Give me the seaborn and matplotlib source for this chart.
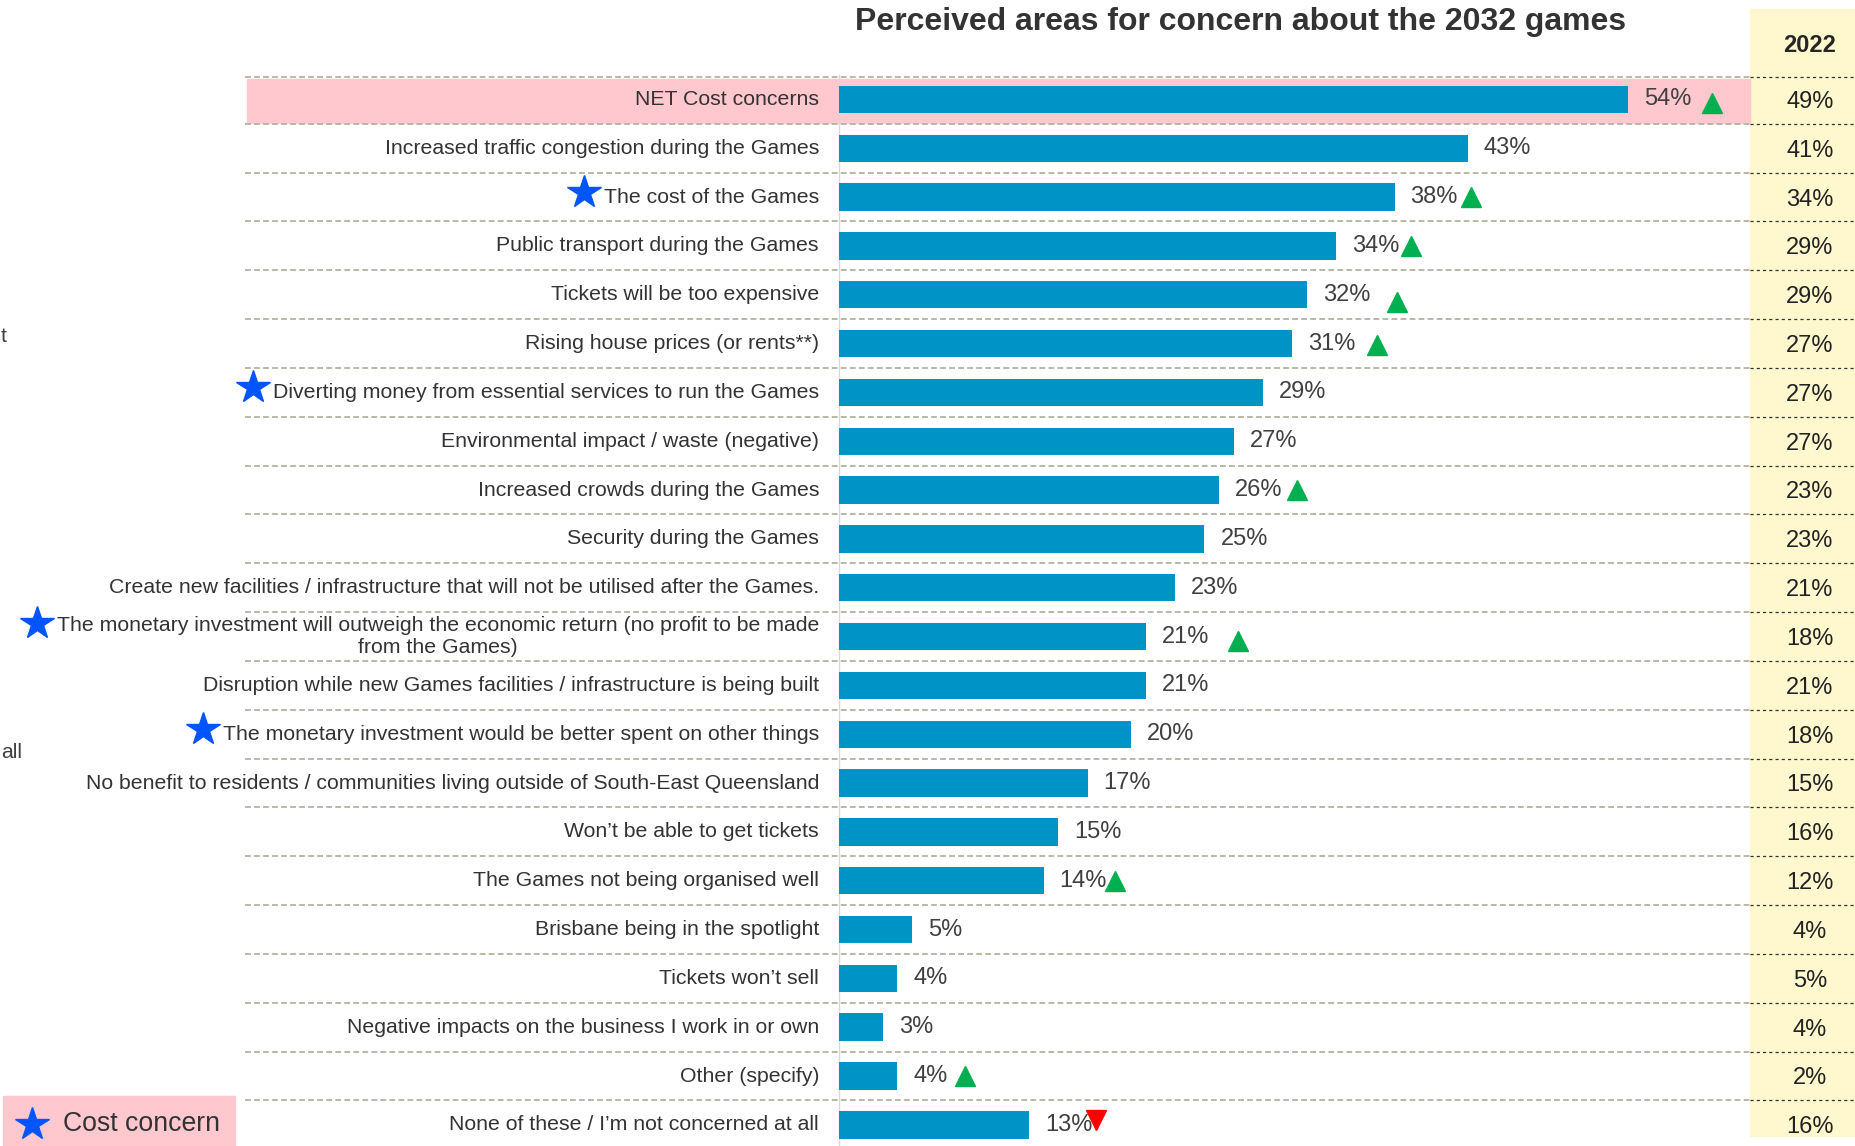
import matplotlib
matplotlib.use("Agg")
import matplotlib.pyplot as plt
import matplotlib.transforms as mtransforms
from matplotlib.patches import Rectangle
from matplotlib.lines import Line2D
import seaborn as sns
import pandas as pd

# Data
categories = [
    "NET Cost concerns",
    "Increased traffic congestion during the Games",
    "The cost of the Games",
    "Public transport during the Games",
    "Tickets will be too expensive",
    "Rising house prices (or rents**)",
    "Diverting money from essential services to run the Games",
    "Environmental impact / waste (negative)",
    "Increased crowds during the Games",
    "Security during the Games",
    "Create new facilities / infrastructure that will not be utilised after the Games.",
    "The monetary investment will outweigh the economic return (no profit to be made\nfrom the Games)",
    "Disruption while new Games facilities / infrastructure is being built",
    "The monetary investment would be better spent on other things",
    "No benefit to residents / communities living outside of South-East Queensland",
    "Won\u2019t be able to get tickets",
    "The Games not being organised well",
    "Brisbane being in the spotlight",
    "Tickets won\u2019t sell",
    "Negative impacts on the business I work in or own",
    "Other (specify)",
    "None of these / I\u2019m not concerned at all",
]
values_now = [54, 43, 38, 34, 32, 31, 29, 27, 26, 25, 23, 21, 21, 20, 17, 15, 14, 5, 4, 3, 4, 13]
values_2022 = [49, 41, 34, 29, 29, 27, 27, 27, 23, 23, 21, 18, 21, 18, 15, 16, 12, 4, 5, 4, 2, 16]
change = ["up", None, "up", "up", "up", "up", None, None, "up", None, None, "up",
          None, None, None, None, "up", None, None, None, "up", "down"]
cost_concern = [2, 6, 11, 13]

# layout of the change arrows (x offset in % units from bar end, y offset in px)
arrow_dx = [5.7, 0, 5.2, 5.1, 6.2, 5.8, 0, 0, 5.3, 0, 0, 6.3, 0, 0, 0, 0, 4.9, 0, 0, 0, 4.6, 4.6]
arrow_dy = [4, 0, 0, 0, 7, 1, 0, 0, 0, 0, 0, 4, 0, 0, 0, 0, 0, 0, 0, 0, 0, -5]

df = pd.DataFrame({"concern": categories, "pct": values_now})

W, H = 1856, 1146
def fx(px):
    return px / W
def fy(px):
    return 1 - px / H

sns.set_style("white")
plt.rcParams['font.family'] = ['Liberation Sans', 'DejaVu Sans']

BAR = "#0093c6"
PINK = "#ffc7ce"
YELLOW = "#fff7ce"
GRID = "#b3b3a3"
TXT = "#404040"

fig = plt.figure(figsize=(W / 100, H / 100), dpi=100)
row_px = 48.83
ax = fig.add_axes([fx(839), 0, fx(1750) - fx(839), (H - 75) / H])
ax.patch.set_visible(False)

sns.barplot(data=df, x="pct", y="concern", orient="h", color=BAR, saturation=1,
            width=0.56, linewidth=0, ax=ax, zorder=3)
ax.set_xlim(0, (1750 - 839) / 14.62)
ax.set_ylim((H - 99.4) / row_px, -0.5)
ax.autoscale(False)
ax.set_xticks([])
ax.set_yticks([])
ax.set_xlabel("")
ax.set_ylabel("")
for s in ["top", "right", "bottom"]:
    ax.spines[s].set_visible(False)
ax.spines["left"].set_color("#d9d9d9")
ax.spines["left"].set_linewidth(1)

trans = mtransforms.blended_transform_factory(fig.transFigure, ax.transData)

# yellow 2022 column
fig.patches.append(Rectangle((fx(1750), fy(1136)), fx(1856) - fx(1750), (1136 - 9) / H,
                             transform=fig.transFigure, color=YELLOW, zorder=-2))

# pink highlight of NET row
ax.add_patch(Rectangle((fx(247), -0.42), fx(1750) - fx(247), 0.9, transform=trans,
                       color=PINK, zorder=0, clip_on=False))

# row separators
seps = [-0.45] + [i + 0.5 for i in range(len(categories) - 1)]
for y in seps:
    ax.add_line(Line2D([fx(245), fx(1750)], [y, y], transform=trans, color=GRID,
                       lw=1.3, dashes=(3.2, 1.8), clip_on=False, zorder=1))
    ax.add_line(Line2D([fx(1750), fx(1856)], [y, y], transform=trans, color="#333333",
                       lw=0.9, dashes=(2.5, 2.5), clip_on=False, zorder=1))

# labels, values, 2022 column
label_texts = []
for i, (lab, v, v22) in enumerate(zip(categories, values_now, values_2022)):
    t = ax.text(fx(819), i, lab, transform=trans, ha="right", va="center", fontsize=15.3,
                color="#333333", multialignment="center", linespacing=1.2, clip_on=False)
    label_texts.append(t)
    ax.annotate(f"{v}%", (v, i), xytext=(11.5, 0), textcoords="offset points",
                ha="left", va="center", fontsize=17, color=TXT)
    ax.text(fx(1810), i + 0.05, f"{v22}%", transform=trans, ha="center", va="center",
            fontsize=17, color="#222222", clip_on=False)
    if change[i] == "up":
        ax.plot(v + arrow_dx[i], i + arrow_dy[i] / row_px, marker="^", ms=15,
                color="#00b050", clip_on=False, zorder=4)
    elif change[i] == "down":
        ax.plot(v + arrow_dx[i], i + arrow_dy[i] / row_px, marker="v", ms=15,
                color="#ff0000", clip_on=False, zorder=4)

fig.text(fx(1241), fy(22), "Perceived areas for concern about the 2032 games", ha="center",
         va="center", fontsize=23, fontweight="bold", color="#333333")
fig.text(fx(1810), fy(46), "2022", ha="center", va="center", fontsize=17,
         fontweight="bold", color="#262626")

# stars next to cost concern labels
fig.canvas.draw()
renderer = fig.canvas.get_renderer()
for i in cost_concern:
    bb = label_texts[i].get_window_extent(renderer)
    ypix = ax.transData.transform((0, i))[1] + (14 if "\n" in categories[i] else 5)
    fig.add_artist(Line2D([(bb.x0 - 20) / W], [ypix / H], marker="*", ms=25,
                          color="#0055ff", transform=fig.transFigure, lw=0))

# legend box
fig.patches.append(Rectangle((fx(3), 0), fx(235) - fx(3), (H - 1096) / H,
                             transform=fig.transFigure, color=PINK, zorder=-2))
fig.add_artist(Line2D([fx(32)], [fy(1124)], marker="*", ms=25, color="#0055ff",
                      transform=fig.transFigure, lw=0))
fig.text(fx(63), fy(1124), "Cost concern", ha="left", va="center", fontsize=19.2,
         color="#333333")

# text fragments at the left edge
fig.text(fx(1), fy(336), "t", ha="left", va="center", fontsize=15.3, color=TXT)
fig.text(fx(1), fy(753), "all", ha="left", va="center", fontsize=15.3, color=TXT)

fig.savefig("out.png", dpi=100)
